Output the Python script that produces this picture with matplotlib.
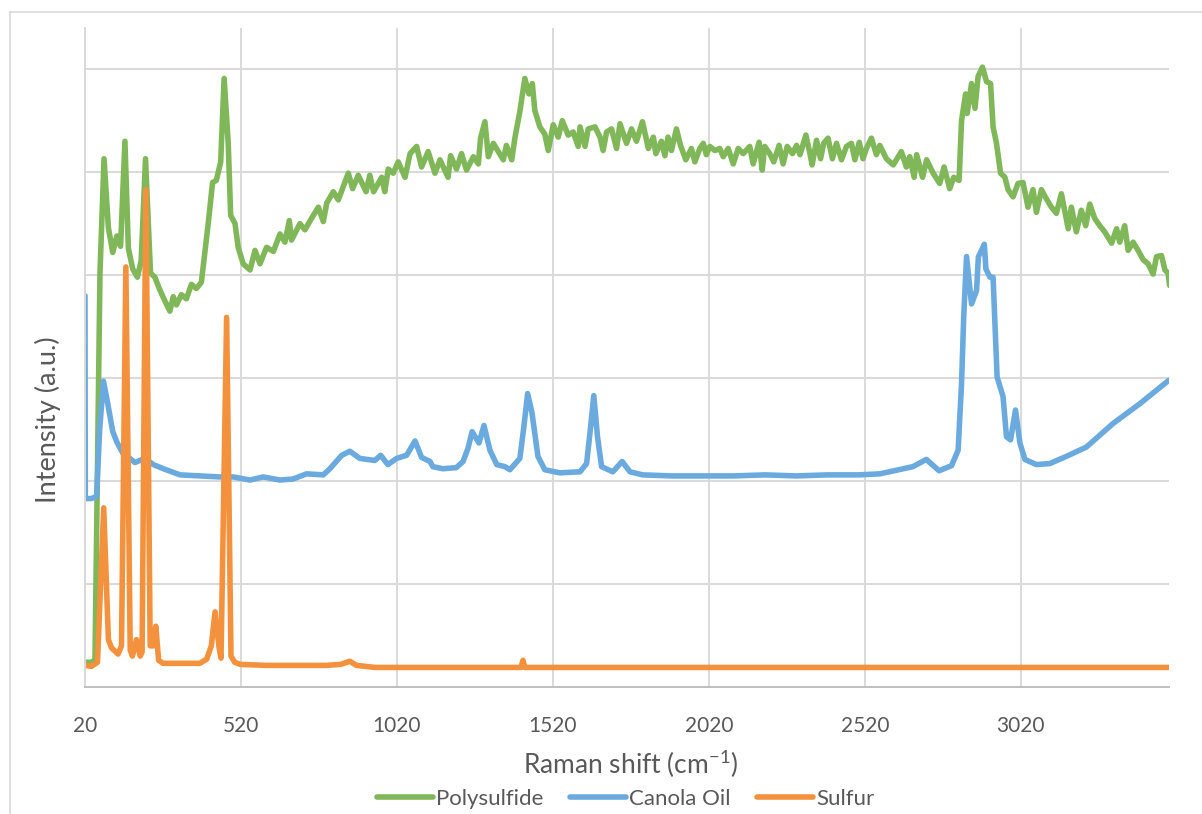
import matplotlib
matplotlib.use("Agg")
import matplotlib.pyplot as plt
from matplotlib.lines import Line2D

# values (y in gridline units, arbitrary intensity)
poly_x = [20, 40, 52, 68, 81, 95, 109, 122, 134, 148, 159, 173, 188, 200, 214, 230,
          244, 258, 276, 292, 303, 313, 329, 345, 361, 377, 393, 415, 429, 441, 455,
          466, 479, 487, 501, 511, 527, 549, 565, 581, 602, 624, 645, 661, 675, 682,
          709, 725, 746, 768, 784, 795, 816, 832, 848, 864, 878, 896, 921, 933, 945,
          971, 981, 992, 1008, 1024, 1046, 1062, 1083, 1099, 1120, 1142, 1158, 1184,
          1192, 1211, 1227, 1243, 1265, 1281, 1288, 1302, 1313, 1329, 1345, 1361,
          1371, 1388, 1398, 1414, 1430, 1443, 1454, 1462, 1478, 1494, 1505, 1521,
          1537, 1550, 1569, 1585, 1601, 1607, 1623, 1633, 1655, 1671, 1681, 1692,
          1708, 1724, 1735, 1756, 1772, 1788, 1807, 1826, 1842, 1850, 1868, 1879,
          1889, 1900, 1916, 1929, 1946, 1964, 1975, 1991, 2002, 2012, 2023, 2039,
          2055, 2066, 2082, 2098, 2114, 2130, 2151, 2162, 2181, 2191, 2199, 2215,
          2228, 2245, 2258, 2271, 2288, 2301, 2312, 2331, 2344, 2351, 2365, 2378,
          2388, 2402, 2416, 2429, 2445, 2461, 2477, 2488, 2502, 2514, 2525, 2541,
          2557, 2568, 2589, 2611, 2637, 2653, 2664, 2678, 2686, 2705, 2718, 2739,
          2760, 2774, 2792, 2805, 2822, 2830, 2843, 2848, 2862, 2873, 2883, 2897,
          2910, 2923, 2931, 2942, 2955, 2969, 2979, 2995, 3011, 3027, 3043, 3059,
          3070, 3086, 3102, 3118, 3134, 3150, 3172, 3182, 3198, 3214, 3228, 3241,
          3257, 3273, 3289, 3311, 3327, 3337, 3353, 3364, 3380, 3396, 3412, 3428,
          3444, 3455, 3471, 3482, 3492, 3497]
poly_y = [0.24, 0.24, 0.26, 4.02, 5.13, 4.46, 4.22, 4.38, 4.28, 5.30, 4.26, 4.06, 3.98,
          4.14, 5.13, 4.02, 3.98, 3.87, 3.75, 3.65, 3.79, 3.71, 3.81, 3.77, 3.91, 3.87,
          3.93, 4.50, 4.90, 4.92, 5.10, 5.91, 5.29, 4.58, 4.50, 4.27, 4.11, 4.05, 4.24,
          4.11, 4.27, 4.23, 4.40, 4.32, 4.53, 4.34, 4.50, 4.44, 4.55, 4.66, 4.52, 4.70,
          4.81, 4.73, 4.86, 4.99, 4.84, 4.97, 4.81, 4.97, 4.81, 4.95, 4.81, 5.03, 4.99,
          5.10, 4.95, 5.18, 5.25, 5.05, 5.20, 4.99, 5.12, 4.95, 5.16, 5.03, 5.18, 5.02,
          5.15, 5.08, 5.33, 5.49, 5.15, 5.28, 5.20, 5.12, 5.26, 5.12, 5.33, 5.59, 5.91,
          5.76, 5.86, 5.60, 5.44, 5.37, 5.21, 5.46, 5.34, 5.50, 5.36, 5.39, 5.25, 5.44,
          5.25, 5.42, 5.44, 5.34, 5.21, 5.39, 5.42, 5.23, 5.47, 5.28, 5.42, 5.30, 5.49,
          5.23, 5.34, 5.18, 5.30, 5.16, 5.34, 5.21, 5.42, 5.26, 5.12, 5.23, 5.10, 5.23,
          5.28, 5.17, 5.25, 5.21, 5.23, 5.15, 5.23, 5.08, 5.23, 5.18, 5.25, 5.08, 5.29,
          5.02, 5.25, 5.18, 5.10, 5.26, 5.08, 5.25, 5.18, 5.26, 5.17, 5.36, 5.18, 5.07,
          5.31, 5.13, 5.28, 5.33, 5.13, 5.28, 5.12, 5.25, 5.28, 5.12, 5.29, 5.13, 5.23,
          5.33, 5.17, 5.26, 5.13, 5.07, 5.20, 5.05, 5.15, 4.95, 5.17, 4.95, 5.12, 4.99,
          4.89, 5.05, 4.84, 4.95, 4.92, 5.50, 5.76, 5.57, 5.86, 5.62, 5.93, 6.02, 5.88,
          5.86, 5.44, 5.28, 4.99, 4.95, 4.83, 4.76, 4.89, 4.90, 4.66, 4.83, 4.61, 4.83,
          4.74, 4.66, 4.60, 4.79, 4.45, 4.66, 4.42, 4.63, 4.48, 4.69, 4.55, 4.48, 4.42,
          4.31, 4.45, 4.32, 4.48, 4.24, 4.32, 4.24, 4.15, 4.11, 4.01, 4.18, 4.19, 4.05,
          4.02, 3.90]

canola_x = [20, 21, 40, 57, 67, 79, 90, 109, 122, 143, 164, 180, 212, 239, 271, 325,
            389, 453, 495, 549, 591, 645, 687, 730, 784, 805, 843, 869, 901, 925, 949,
            968, 991, 1019, 1051, 1078, 1099, 1126, 1135, 1167, 1210, 1232, 1248, 1261,
            1283, 1299, 1318, 1340, 1366, 1382, 1414, 1427, 1439, 1453, 1472, 1494,
            1542, 1607, 1628, 1641, 1651, 1663, 1676, 1712, 1742, 1767, 1808, 1900,
            1991, 2100, 2200, 2300, 2400, 2500, 2568, 2674, 2717, 2758, 2798, 2819,
            2830, 2837, 2846, 2862, 2878, 2884, 2894, 2903, 2908, 2921, 2931, 2944,
            2963, 2974, 2987, 3003, 3017, 3033, 3070, 3113, 3166, 3230, 3316, 3401, 3495]
canola_y = [3.80, 1.83, 1.83, 1.85, 2.50, 2.97, 2.80, 2.48, 2.38, 2.26, 2.22, 2.18, 2.22,
            2.16, 2.12, 2.06, 2.05, 2.04, 2.04, 2.01, 2.04, 2.01, 2.02, 2.07, 2.06, 2.12,
            2.25, 2.29, 2.22, 2.21, 2.20, 2.25, 2.16, 2.22, 2.25, 2.39, 2.23, 2.19, 2.14,
            2.12, 2.13, 2.19, 2.32, 2.48, 2.37, 2.54, 2.30, 2.16, 2.14, 2.11, 2.22, 2.53,
            2.85, 2.66, 2.24, 2.11, 2.08, 2.09, 2.17, 2.53, 2.83, 2.43, 2.14, 2.09, 2.19,
            2.09, 2.06, 2.05, 2.05, 2.05, 2.06, 2.05, 2.06, 2.06, 2.07, 2.14, 2.21, 2.10,
            2.15, 2.30, 2.95, 3.60, 4.18, 3.72, 3.85, 4.18, 4.24, 4.30, 4.06, 3.98, 3.98,
            3.01, 2.82, 2.43, 2.40, 2.69, 2.37, 2.21, 2.16, 2.17, 2.24, 2.33, 2.56, 2.75,
            2.98]

sulfur_x = [20, 40, 60, 80, 95, 105, 126, 137, 151, 165, 172, 185, 197, 203, 215, 229,
            240, 247, 256, 270, 330, 388, 410, 425, 437, 450, 456, 474, 488, 500, 517,
            600, 700, 794, 840, 869, 890, 950, 1200, 1418, 1424, 1430, 2000, 3000, 3495]
sulfur_y = [0.21, 0.20, 0.24, 1.74, 0.46, 0.38, 0.32, 0.40, 4.08, 0.36, 0.30, 0.46, 0.30,
            0.34, 4.83, 0.40, 0.40, 0.59, 0.26, 0.23, 0.23, 0.23, 0.27, 0.40, 0.73, 0.38,
            0.28, 3.59, 0.30, 0.24, 0.22, 0.21, 0.21, 0.21, 0.22, 0.25, 0.21, 0.19, 0.19,
            0.19, 0.26, 0.19, 0.19, 0.19, 0.19]

x_ticks = [20, 520, 1020, 1520, 2020, 2520, 3020]

GREEN = "#7fb759"
BLUE = "#6aaade"
ORANGE = "#f3913d"
TEXT = "#595959"
GRID = "#d9d9d9"

plt.rcParams["font.family"] = ["Lato", "DejaVu Sans"]
plt.rcParams["mathtext.fontset"] = "custom"
plt.rcParams["mathtext.rm"] = "Lato"
plt.rcParams["mathtext.it"] = "Lato"

W, H = 1202, 814
fig = plt.figure(figsize=(W / 100, H / 100), dpi=100)
ax = fig.add_axes([85 / W, 1 - 687 / H, (1169 - 85) / W, (687 - 28) / H])

lw = 4.0
for xs, ys, c, name in [(poly_x, poly_y, GREEN, "Polysulfide"),
                        (canola_x, canola_y, BLUE, "Canola Oil"),
                        (sulfur_x, sulfur_y, ORANGE, "Sulfur")]:
    ax.plot(xs, ys, color=c, lw=lw, label=name,
            solid_joinstyle="round", solid_capstyle="round")

ax.set_xlim(20, 3495)
ax.set_ylim(0, 6.4)
ax.set_xticks(x_ticks)
ax.set_xticklabels([str(t) for t in x_ticks])
ax.set_yticks([1, 2, 3, 4, 5, 6])
ax.set_yticklabels([])
ax.tick_params(length=0)
ax.tick_params(axis="x", pad=21, labelsize=15, labelcolor=TEXT)
ax.grid(True, color=GRID, lw=1.4)
ax.set_axisbelow(True)
for s in ["top", "right"]:
    ax.spines[s].set_visible(False)
ax.spines["left"].set_color(GRID)
ax.spines["left"].set_linewidth(1.4)
ax.spines["bottom"].set_color("#bfbfbf")
ax.spines["bottom"].set_linewidth(1.4)

fig.text(631 / W, 1 - 764 / H, "Raman shift (cm$^{-1}$)", ha="center", va="center",
         fontsize=19, color=TEXT)
fig.text(48 / W, 1 - 420 / H, "Intensity (a.u.)", ha="center", va="center",
         rotation=90, fontsize=19.5, color=TEXT)

fig.legend(loc="center", bbox_to_anchor=(626 / W, 1 - 799 / H), ncol=3, frameon=False,
           fontsize=16, labelcolor=TEXT, handlelength=2.5, handletextpad=0.15,
           columnspacing=1.2, borderaxespad=0, borderpad=0)

# chart-area border (only top and left edges fall inside the picture)
fig.add_artist(Line2D([10 / W, 10 / W], [0, 1 - 12 / H], color=GRID, lw=1.2))
fig.add_artist(Line2D([10 / W, 1], [1 - 12 / H, 1 - 12 / H], color=GRID, lw=1.2))

fig.savefig("out.png", dpi=100)
